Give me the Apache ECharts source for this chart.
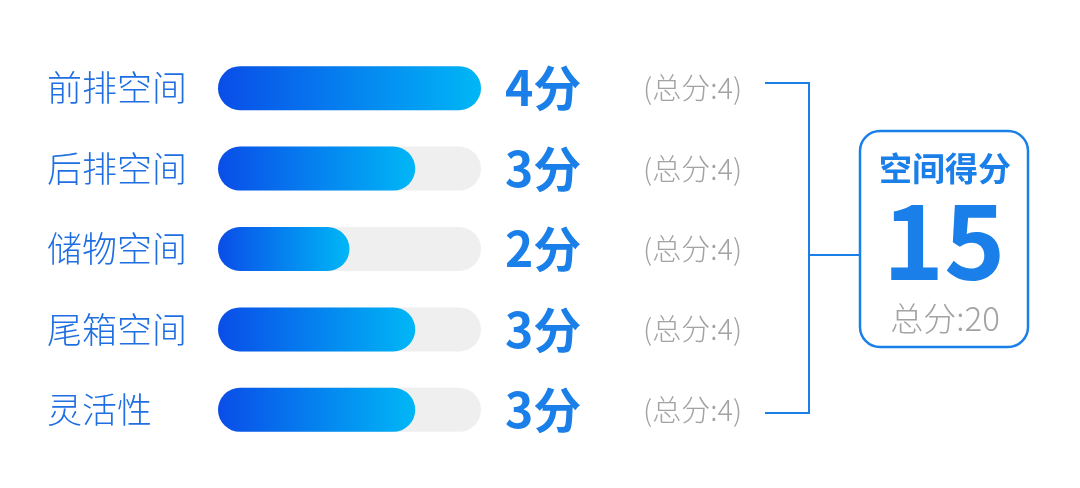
<!DOCTYPE html>
<html>
<head>
<meta charset="utf-8">
<script src="https://cdn.jsdelivr.net/npm/echarts@6/dist/echarts.min.js"></script>
<style>
html,body{margin:0;padding:0;background:#fff;}
#main{width:1080px;height:488px;}
</style>
</head>
<body>
<div id="main"></div>
<script>
const categories = ['前排空间', '后排空间', '储物空间', '尾箱空间', '灵活性'];
const scores = [4, 3, 2, 3, 3];
const totals = [4, 4, 4, 4, 4];
const titleText = '空间得分';

const FONT = '"Noto Sans CJK SC", "Noto Sans", sans-serif';
const BLUE = '#1a7fe8';
const GRAY = '#a3a3a3';

const scoreSum = scores.reduce((a, b) => a + b, 0);
const totalSum = totals.reduce((a, b) => a + b, 0);

const chart = echarts.init(document.getElementById('main'));
chart.setOption({
  backgroundColor: '#ffffff',
  animation: false,
  grid: { left: 218, right: 599, top: 48, bottom: 38 },
  xAxis: { type: 'value', min: 0, max: 4, show: false },
  yAxis: {
    type: 'category',
    data: categories,
    inverse: true,
    axisLine: { show: false },
    axisTick: { show: false },
    splitLine: { show: false },
    axisLabel: {
      align: 'left',
      margin: 171,
      color: '#1f6fe3',
      fontSize: 35,
      fontWeight: 300,
      fontFamily: FONT
    }
  },
  series: [
    {
      type: 'bar',
      data: totals,
      barWidth: 44,
      barGap: '-100%',
      silent: true,
      itemStyle: { color: '#efefef', borderRadius: 22 },
      label: {
        show: true,
        position: 'right',
        distance: 24,
        fontFamily: FONT,
        formatter: p => '{a|' + scores[p.dataIndex] + '分}{b|(总分:' + totals[p.dataIndex] + ')}',
        rich: {
          a: { fontSize: 48, fontWeight: 'bold', color: BLUE, width: 138, fontFamily: FONT },
          b: { fontSize: 29, fontWeight: 300, color: GRAY, fontFamily: FONT }
        }
      }
    },
    {
      type: 'bar',
      data: scores,
      barWidth: 44,
      itemStyle: {
        borderRadius: 22,
        color: new echarts.graphic.LinearGradient(0, 0, 1, 0, [
          { offset: 0, color: '#0a4de8' },
          { offset: 1, color: '#00b7f6' }
        ])
      }
    }
  ],
  graphic: [
    { type: 'polyline', shape: { points: [[765, 83], [809, 83], [809, 413], [765, 413]] },
      style: { stroke: BLUE, lineWidth: 2, fill: null } },
    { type: 'line', shape: { x1: 809, y1: 255, x2: 860, y2: 255 },
      style: { stroke: BLUE, lineWidth: 2 } },
    { type: 'rect', shape: { x: 860, y: 131, width: 168, height: 216, r: 20 },
      style: { stroke: BLUE, lineWidth: 2.5, fill: '#fff' } },
    { type: 'text', x: 945, y: 168,
      style: { text: titleText, fill: BLUE, font: 'bold 33px ' + FONT, align: 'center', verticalAlign: 'middle' } },
    { type: 'text', x: 944, y: 240,
      style: { text: String(scoreSum), fill: BLUE, font: 'bold 104px ' + FONT, align: 'center', verticalAlign: 'middle' } },
    { type: 'text', x: 945, y: 318,
      style: { text: '总分:' + totalSum, fill: GRAY, font: '300 33px ' + FONT, align: 'center', verticalAlign: 'middle' } }
  ]
});
</script>
</body>
</html>
